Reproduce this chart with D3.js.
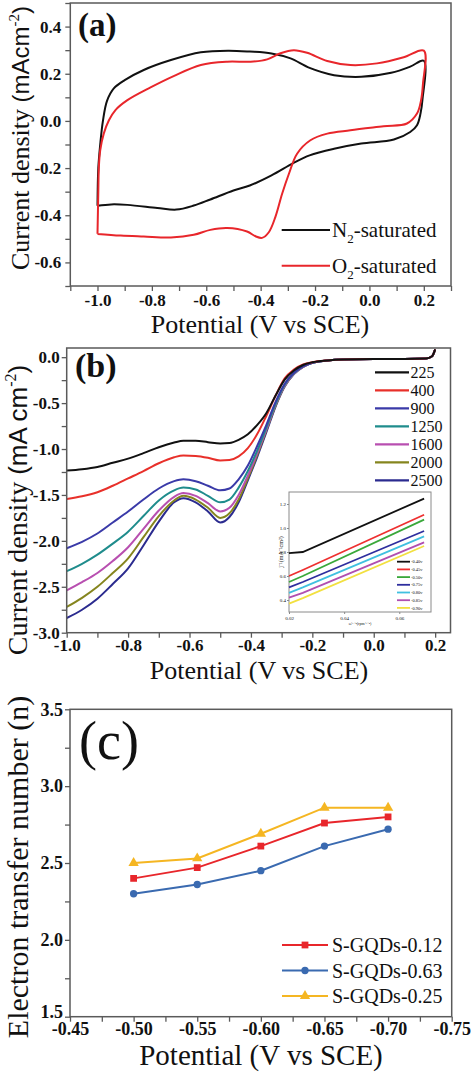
<!DOCTYPE html>
<html><head><meta charset="utf-8">
<script src="https://cdn.jsdelivr.net/npm/d3@7"></script>
<style>
body{margin:0;background:#fff}
svg{display:block}
text{font-family:"Liberation Serif","Times New Roman",serif;fill:#111}
</style>
</head><body>
<svg id="chart" width="474" height="1077"></svg>
<script>
// ---------------- Panel (a): CV data ----------------
const potA_N2 = [-1.0,-0.997,-0.99,-0.98,-0.965,-0.94,-0.90,-0.83,-0.73,-0.62,-0.52,-0.44,-0.36,-0.29,-0.22,-0.13,-0.03,0.08,0.15,0.2,
  0.195,0.188,0.175,0.15,0.09,-0.03,-0.13,-0.22,-0.28,-0.36,-0.44,-0.50,-0.585,-0.646,-0.71,-0.78,-0.89,-0.95,-1.0];
const curA_N2 = [-0.36,-0.2,-0.1,0.0,0.085,0.138,0.173,0.216,0.258,0.291,0.298,0.294,0.286,0.265,0.225,0.194,0.187,0.204,0.23,0.255,
  0.09,0.032,-0.018,-0.047,-0.079,-0.096,-0.118,-0.146,-0.179,-0.231,-0.274,-0.295,-0.333,-0.359,-0.376,-0.369,-0.356,-0.354,-0.36];
const potA_O2 = [-1.0,-0.997,-0.995,-0.99,-0.977,-0.958,-0.934,-0.89,-0.805,-0.72,-0.62,-0.523,-0.437,-0.376,-0.327,-0.278,-0.229,-0.155,-0.07,0.028,0.126,0.2,
  0.197,0.19,0.175,0.138,0.052,-0.07,-0.155,-0.217,-0.266,-0.296,-0.321,-0.346,-0.37,-0.395,-0.419,-0.45,-0.523,-0.585,-0.646,-0.73,-0.83,-0.915,-1.0];
const curA_O2 = [-0.479,-0.3,-0.196,-0.125,-0.054,0.003,0.046,0.088,0.142,0.19,0.237,0.251,0.251,0.261,0.287,0.30,0.289,0.254,0.237,0.244,0.27,0.298,
  0.159,0.088,0.031,-0.011,-0.023,-0.04,-0.054,-0.082,-0.139,-0.224,-0.309,-0.408,-0.472,-0.496,-0.489,-0.469,-0.454,-0.462,-0.483,-0.494,-0.49,-0.486,-0.479];
const seriesA = ["N2-saturated","O2-saturated"];
const colorsA = ["#111111","#e8262b"];

// ---------------- Panel (b): LSV data ----------------
const potB = [-1.0,-0.95,-0.9,-0.85,-0.8,-0.75,-0.7,-0.65,-0.62,-0.58,-0.54,-0.5,-0.47,-0.44,-0.41,-0.38,-0.35,-0.32,-0.29,-0.26,-0.23,-0.2,-0.15,-0.1,0.0,0.1,0.17,0.19,0.2];
const rpm225  = [-1.235,-1.22,-1.195,-1.15,-1.105,-1.045,-0.98,-0.93,-0.91,-0.91,-0.925,-0.94,-0.935,-0.90,-0.84,-0.74,-0.61,-0.42,-0.245,-0.145,-0.085,-0.055,-0.035,-0.025,-0.02,-0.02,-0.015,0.01,0.085];
const rpm400  = [-1.545,-1.515,-1.47,-1.40,-1.32,-1.24,-1.155,-1.09,-1.07,-1.075,-1.095,-1.125,-1.12,-1.08,-0.99,-0.84,-0.64,-0.42,-0.23,-0.135,-0.08,-0.055,-0.035,-0.025,-0.02,-0.02,-0.015,0.01,0.085];
const rpm900  = [-2.08,-2.01,-1.92,-1.80,-1.68,-1.55,-1.43,-1.35,-1.33,-1.35,-1.40,-1.45,-1.43,-1.33,-1.18,-0.97,-0.74,-0.49,-0.29,-0.17,-0.10,-0.06,-0.035,-0.025,-0.02,-0.02,-0.015,0.01,0.085];
const rpm1250 = [-2.33,-2.25,-2.15,-2.03,-1.90,-1.73,-1.56,-1.45,-1.42,-1.44,-1.51,-1.58,-1.55,-1.42,-1.24,-1.02,-0.77,-0.51,-0.30,-0.175,-0.10,-0.06,-0.035,-0.025,-0.02,-0.02,-0.015,0.01,0.085];
const rpm1600 = [-2.54,-2.45,-2.35,-2.22,-2.07,-1.87,-1.67,-1.52,-1.48,-1.51,-1.59,-1.68,-1.64,-1.50,-1.29,-1.05,-0.79,-0.52,-0.31,-0.18,-0.105,-0.06,-0.035,-0.025,-0.02,-0.02,-0.015,0.01,0.085];
const rpm2000 = [-2.72,-2.62,-2.50,-2.35,-2.19,-1.96,-1.73,-1.56,-1.51,-1.55,-1.64,-1.75,-1.70,-1.55,-1.32,-1.07,-0.80,-0.53,-0.315,-0.18,-0.105,-0.06,-0.035,-0.025,-0.02,-0.02,-0.015,0.01,0.085];
const rpm2500 = [-2.84,-2.75,-2.63,-2.47,-2.30,-2.05,-1.79,-1.58,-1.535,-1.58,-1.68,-1.80,-1.74,-1.58,-1.34,-1.09,-0.82,-0.54,-0.32,-0.185,-0.105,-0.06,-0.035,-0.025,-0.02,-0.02,-0.015,0.01,0.085];
const rpmLabels = ["225","400","900","1250","1600","2000","2500"];
const rpmColors = ["#111111","#e8302a","#3a3aa8","#1f8c8c","#b84fb0","#85851e","#2b2b8f"];

// Inset (K-L plots)
const insetX = [0.02,0.025,0.069];
const klm040 = [0.79,0.80,1.245];
const klm045 = [0.60,0.65,1.11];
const klm050 = [0.55,0.60,1.07];
const klm075 = [0.505,0.55,0.975];
const klm080 = [0.46,0.505,0.93];
const klm085 = [0.42,0.46,0.88];
const klm090 = [0.37,0.415,0.85];
const klLabels = ["-0.40v","-0.45v","-0.50v","-0.75v","-0.80v","-0.85v","-0.90v"];
const klColors = ["#111111","#ee3030","#3aa83a","#2e2e9e","#40c0e0","#b04fb0","#f2e040"];
const insetYTicks = [0.4,0.6,0.8,1.0,1.2];
const insetXTicks = [0.02,0.04,0.06];

// ---------------- Panel (c): electron transfer number ----------------
const potC = [-0.50,-0.55,-0.60,-0.65,-0.70];
const nS012 = [2.40,2.47,2.61,2.76,2.80];
const nS063 = [2.30,2.36,2.45,2.61,2.72];
const nS025 = [2.50,2.53,2.69,2.86,2.86];
const seriesC = ["S-GQDs-0.12","S-GQDs-0.63","S-GQDs-0.25"];
const colorsC = ["#e8262b","#3a6ab0","#f5b622"];
const symbolsC = [d3.symbolSquare, d3.symbolCircle, d3.symbolTriangle];

// ---------------- drawing ----------------
const svg = d3.select("#chart");
const FRAME = "#5a5a5a";
const fmt = n => d => (d < -1e-9 ? "-" : "") + Math.abs(d).toFixed(n);

function frame(x, y) {
  const [x0,x1] = x.range(), [y0,y1] = y.range();
  svg.append("rect").attr("x",Math.min(x0,x1)).attr("y",Math.min(y0,y1))
    .attr("width",Math.abs(x1-x0)).attr("height",Math.abs(y1-y0))
    .attr("fill","none").attr("stroke",FRAME).attr("stroke-width",1.5);
}
function axes(x, y, xt, xlab, yt, ylab, fs, padX, padY) {
  const yb = y.range()[0];
  const xl = x.range()[0];
  const gx = svg.append("g").attr("transform",`translate(0,${yb})`)
    .call(d3.axisBottom(x).tickValues(xt).tickSize(5).tickPadding(padX).tickFormat(xlab));
  const gy = svg.append("g").attr("transform",`translate(${xl},0)`)
    .call(d3.axisLeft(y).tickValues(yt).tickSize(5).tickPadding(padY).tickFormat(ylab));
  [gx,gy].forEach(g => {
    g.select(".domain").remove();
    g.selectAll(".tick line").attr("stroke",FRAME).attr("stroke-width",1.3);
    g.selectAll(".tick text").attr("font-family","'Liberation Serif','Times New Roman',serif")
      .attr("font-weight","bold").attr("font-size",fs).attr("fill","#111");
  });
  return [gx,gy];
}

// ===== Panel (a) =====
{
  const x = d3.scaleLinear().domain([-1.1,0.3]).range([70.3,451]);
  const y = d3.scaleLinear().domain([-0.7,0.5]).range([286,3]);
  const xt = d3.range(-11,4).map(d=>d/10);
  const yt = d3.range(-7,6).map(d=>d/10);
  axes(x,y,xt,d=>Math.round(d*10)%2===0 && d>=-1.0 && d<=0.2 ? fmt(1)(d):"",
       yt,d=>Math.round(d*10)%2===0 && d>=-0.6 && d<=0.4 ? fmt(1)(d):"",17,3,4);
  const line = d3.line().x(d=>x(d[0])).y(d=>y(d[1])).curve(d3.curveCatmullRom.alpha(0.5));
  const data = [d3.zip(potA_N2,curA_N2), d3.zip(potA_O2,curA_O2)];
  data.forEach((s,i)=>svg.append("path").attr("d",line(s)).attr("fill","none")
     .attr("stroke",colorsA[i]).attr("stroke-width",2));
  frame(x,y);
  svg.append("text").attr("x",78).attr("y",36).attr("font-size",33).attr("font-weight","bold").text("(a)");
  const ly = [230,265.7];
  seriesA.forEach((s,i)=>{
    svg.append("line").attr("x1",281.7).attr("x2",330).attr("y1",ly[i]).attr("y2",ly[i])
      .attr("stroke",colorsA[i]).attr("stroke-width",2);
    const t = svg.append("text").attr("x",332).attr("y",ly[i]+7).attr("font-size",21);
    t.append("tspan").text(s[0]);
    t.append("tspan").attr("font-size",13).attr("dy",6).text("2");
    t.append("tspan").attr("dy",-6).text(s.slice(2));
  });
  svg.append("text").attr("x",260).attr("y",333).attr("text-anchor","middle").attr("font-size",26).text("Potential (V vs SCE)");
  const yt2 = svg.append("text").attr("transform","translate(28.5,138) rotate(-90)").attr("text-anchor","middle").attr("font-size",26);
  yt2.append("tspan").text("Current density ");
  yt2.append("tspan").attr("font-family","'Liberation Sans',Arial,sans-serif").attr("font-size",24).text("(mAcm");
  yt2.append("tspan").attr("font-size",15).attr("dy",-10).text("-2");
  yt2.append("tspan").attr("dy",10).attr("font-family","'Liberation Sans',Arial,sans-serif").attr("font-size",24).text(")");
}

// ===== Panel (b) =====
{
  const x = d3.scaleLinear().domain([-1.0,0.25]).range([66.7,450.5]);
  const y = d3.scaleLinear().domain([-3.0,0.1]).range([632.7,348]);
  const xt = d3.range(-10,3).map(d=>d/10);
  const yt = d3.range(-12,1).map(d=>d/4);
  axes(x,y,xt,d=>Math.round(d*10)%2===0 ? fmt(1)(d):"",
       yt,d=>Math.round(d*4)%2===0 ? fmt(1)(d):"",17,1,2);
  const line = d3.line().x(d=>x(d[0])).y(d=>y(d[1])).curve(d3.curveMonotoneX);
  const all = [rpm225,rpm400,rpm900,rpm1250,rpm1600,rpm2000,rpm2500];
  all.slice().reverse().forEach((vals,j)=>{
    const i = all.length-1-j;
    svg.append("path").attr("d",line(d3.zip(potB,vals))).attr("fill","none")
      .attr("stroke",rpmColors[i]).attr("stroke-width",2);
  });
  frame(x,y);
  svg.append("text").attr("x",75).attr("y",377).attr("font-size",34).attr("font-weight","bold").text("(b)");
  rpmLabels.forEach((s,i)=>{
    const yy = 372.3 + 18*i;
    svg.append("line").attr("x1",375).attr("x2",409).attr("y1",yy).attr("y2",yy)
      .attr("stroke",rpmColors[i]).attr("stroke-width",2.2);
    svg.append("text").attr("x",410.5).attr("y",yy+5.5).attr("font-size",16).text(s);
  });
  svg.append("text").attr("x",259).attr("y",679).attr("text-anchor","middle").attr("font-size",26).text("Potential (V vs SCE)");
  const yt2 = svg.append("text").attr("transform","translate(27,510) rotate(-90)").attr("text-anchor","middle").attr("font-size",28);
  yt2.append("tspan").text("Current density ");
  yt2.append("tspan").attr("font-family","'Liberation Sans',Arial,sans-serif").attr("font-size",26).text("(mA cm");
  yt2.append("tspan").attr("font-size",16).attr("dy",-11).text("-2");
  yt2.append("tspan").attr("dy",11).attr("font-family","'Liberation Sans',Arial,sans-serif").attr("font-size",26).text(")");

  // inset
  const ix = d3.scaleLinear().domain([0.02,0.0715]).range([289,431]);
  const iy = d3.scaleLinear().domain([0.3,1.3]).range([612,492]);
  svg.append("rect").attr("x",289).attr("y",492).attr("width",142).attr("height",120)
    .attr("fill","#fff").attr("stroke","#8a8a8a").attr("stroke-width",1);
  const gx = svg.append("g").attr("transform","translate(0,612)")
    .call(d3.axisBottom(ix).tickValues(insetXTicks).tickSize(2).tickPadding(2).tickFormat(d=>d.toFixed(2)));
  const gy = svg.append("g").attr("transform","translate(289,0)")
    .call(d3.axisLeft(iy).tickValues(insetYTicks).tickSize(2).tickPadding(1).tickFormat(d=>d.toFixed(1)));
  [gx,gy].forEach(g=>{
    g.select(".domain").remove();
    g.selectAll(".tick line").attr("stroke","#8a8a8a");
    g.selectAll(".tick text").attr("font-size",5).attr("font-family","'Liberation Serif',serif").attr("fill","#333");
  });
  const iline = d3.line().x(d=>ix(d[0])).y(d=>iy(d[1]));
  [klm040,klm045,klm050,klm075,klm080,klm085,klm090].forEach((v,i)=>{
    svg.append("path").attr("d",iline(d3.zip(insetX,v))).attr("fill","none")
      .attr("stroke",klColors[i]).attr("stroke-width",1.8);
    const yy = 561.7 + 7.7*i;
    svg.append("line").attr("x1",397).attr("x2",410).attr("y1",yy).attr("y2",yy)
      .attr("stroke",klColors[i]).attr("stroke-width",1.8);
    svg.append("text").attr("x",411).attr("y",yy+1.6).attr("font-size",4.5).attr("fill","#333").text(klLabels[i]);
  });
  svg.append("text").attr("transform","translate(283,552) rotate(-90)").attr("text-anchor","middle")
    .attr("font-size",6).attr("fill","#333").text("j⁻¹(mA⁻¹cm²)");
  svg.append("text").attr("x",360).attr("y",625).attr("text-anchor","middle")
    .attr("font-size",4).attr("fill","#333").text("ω⁻¹ᐟ²(rpm⁻¹ᐟ²)");
}

// ===== Panel (c) =====
{
  const x = d3.scaleLinear().domain([-0.45,-0.75]).range([70,451.7]);
  const y = d3.scaleLinear().domain([1.5,3.5]).range([1016.7,709.3]);
  const xt = d3.range(-18,-31,-1).map(d=>d/40);
  const yt = d3.range(6,15).map(d=>d/4);
  const [gx,gy] = axes(x,y,xt,d=>Math.round(d*40)%2===0 ? fmt(2)(d):"",
       yt,d=>Math.round(d*4)%2===0 ? fmt(1)(d):"",18,1,2);
  // lift the bottom-left "1.5" label slightly so it clears the first x label
  gy.selectAll(".tick").filter(d=>Math.abs(d-1.5)<1e-9).select("text").attr("dy","0.05em");
  const line = d3.line().x(d=>x(d[0])).y(d=>y(d[1]));
  const all = [nS012,nS063,nS025];
  all.forEach((vals,i)=>{
    const pts = d3.zip(potC,vals);
    svg.append("path").attr("d",line(pts)).attr("fill","none").attr("stroke",colorsC[i]).attr("stroke-width",2);
    const sz = i===1 ? 42 : 46;
    svg.append("g").selectAll("path").data(pts).join("path")
      .attr("transform",d=>`translate(${x(d[0])},${y(d[1])})`)
      .attr("d",d3.symbol().type(symbolsC[i]).size(sz)).attr("fill",colorsC[i]);
  });
  frame(x,y);
  svg.append("text").attr("x",79).attr("y",759).attr("font-size",54).text("(c)");
  const ly = [945,970.5,996];
  seriesC.forEach((s,i)=>{
    svg.append("line").attr("x1",282).attr("x2",328).attr("y1",ly[i]).attr("y2",ly[i])
      .attr("stroke",colorsC[i]).attr("stroke-width",2);
    svg.append("path").attr("transform",`translate(305,${ly[i]})`)
      .attr("d",d3.symbol().type(symbolsC[i]).size(i===1?42:46)).attr("fill",colorsC[i]);
    svg.append("text").attr("x",332).attr("y",ly[i]+7).attr("font-size",20).text(s);
  });
  svg.append("text").attr("x",261).attr("y",1065).attr("text-anchor","middle").attr("font-size",29).text("Potential (V vs SCE)");
  svg.append("text").attr("transform","translate(28,867) rotate(-90)").attr("text-anchor","middle")
    .attr("font-size",30).text("Electron transfer number (n)");
}
</script>
</body></html>
